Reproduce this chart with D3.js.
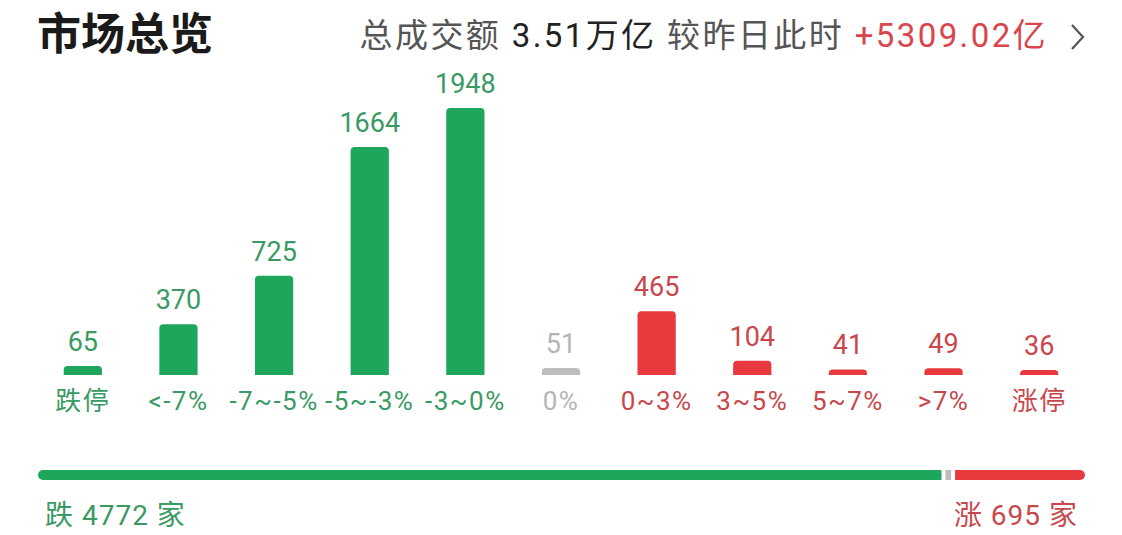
<!DOCTYPE html>
<html><head><meta charset="utf-8">
<script src="https://cdn.jsdelivr.net/npm/d3@7"></script>
<style>body{margin:0;background:#fff;}svg{display:block;font-family:Roboto,"Noto Sans CJK SC",sans-serif;}</style>
</head><body>
<script>
const categories = ["跌停","<-7%","-7~-5%","-5~-3%","-3~0%","0%","0~3%","3~5%","5~7%",">7%","涨停"];
const counts = [65,370,725,1664,1948,51,465,104,41,49,36];
const groups = ["down","down","down","down","down","flat","up","up","up","up","up"];
const totalDown = 4772, totalFlat = 51, totalUp = 695;
const headerParts = [["总成交额 ","#555"],["3.51万亿 ","#222"],["较昨日此时 ","#555"],["+5309.02亿","#d9454a"]];

const W=1122,H=535;
const barColor={down:"#1ea65c",flat:"#bdbdbd",up:"#e8393f"};
const textColor={down:"#3a9a63",flat:"#b5b5b5",up:"#c9474c"};
const svg=d3.select("body").append("svg").attr("width",W).attr("height",H);

svg.append("text").attr("x",37).attr("y",50).attr("font-size",44).attr("font-weight",700)
  .attr("font-family","'Noto Sans CJK SC'").attr("fill","#1a1a1a").text("市场总览");
const hdr=svg.append("text").attr("x",1048).attr("y",47).attr("font-size",33).attr("letter-spacing",2.4).attr("text-anchor","end");
headerParts.forEach(p=>hdr.append("tspan").attr("fill",p[1]).text(p[0]));
svg.append("path").attr("d","M1072,25 L1083,37 L1072,49").attr("fill","none").attr("stroke","#555").attr("stroke-width",2.2);

const x=d3.scaleBand().domain(categories).range([35,1087]).paddingInner(0.6).paddingOuter(0.3);
const base=375;
const y=d3.scaleLinear().domain([0,1948]).range([base,108]);
const bw=x.bandwidth();
const r=4;
categories.forEach((c,i)=>{
  const x0=x(c), top=y(counts[i]), h=base-top, rr=Math.min(r,h);
  svg.append("path").attr("fill",barColor[groups[i]])
    .attr("d",`M${x0},${base} L${x0},${top+rr} Q${x0},${top} ${x0+rr},${top} L${x0+bw-rr},${top} Q${x0+bw},${top} ${x0+bw},${top+rr} L${x0+bw},${base} Z`);
  svg.append("text").attr("x",x0+bw/2).attr("y",top-15).attr("text-anchor","middle").attr("font-size",27).attr("fill",textColor[groups[i]]).text(counts[i]);
  svg.append("text").attr("x",x0+bw/2).attr("y",410).attr("text-anchor","middle").attr("font-size",26).attr("letter-spacing",1.5).attr("fill",textColor[groups[i]]).text(c);
});

// bottom ratio bar
const xs=d3.scaleLinear().domain([0,totalDown+totalFlat+totalUp]).range([38,1085]);
const by=470,bh=10,gap=2;
const segs=[[0,totalDown,barColor.down],[totalDown,totalDown+totalFlat,barColor.flat],[totalDown+totalFlat,totalDown+totalFlat+totalUp,barColor.up]];
segs.forEach((s,i)=>{
  const a=xs(s[0])+(i>0?gap:0), b=xs(s[1])-(i<2?gap:0);
  svg.append("rect").attr("x",a).attr("y",by).attr("width",b-a).attr("height",bh).attr("fill",s[2]).attr("rx",i===1?0:5);
  if(i===0) svg.append("rect").attr("x",a+5).attr("y",by).attr("width",b-a-5).attr("height",bh).attr("fill",s[2]);
  if(i===2) svg.append("rect").attr("x",a).attr("y",by).attr("width",b-a-5).attr("height",bh).attr("fill",s[2]);
});
svg.append("text").attr("x",45).attr("y",525).attr("font-size",28).attr("letter-spacing",1).attr("fill",textColor.down).text(`跌 ${totalDown} 家`);
svg.append("text").attr("x",1078).attr("y",525).attr("font-size",28).attr("letter-spacing",1).attr("text-anchor","end").attr("fill",textColor.up).text(`涨 ${totalUp} 家`);
</script>
</body></html>
